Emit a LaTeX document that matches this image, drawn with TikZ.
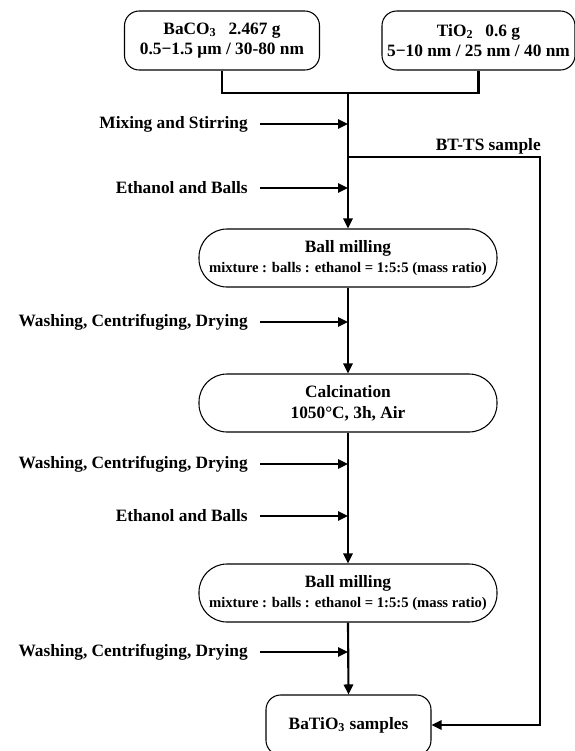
\documentclass[tikz,border=0pt]{standalone}
\usepackage{fontspec}
\setmainfont{Liberation Serif}
\usepackage{tikz}
\usetikzlibrary{arrows.meta,positioning}

\tikzset{
  stage/.style={draw, line width=0.8pt, rounded corners=21pt, align=center,
    minimum width=223.5pt, minimum height=43.5pt, inner sep=0pt,
    font=\bfseries\fontsize{13}{15.75}\selectfont},
  source/.style={draw, line width=0.8pt, rounded corners=11pt, align=center,
    minimum height=44.25pt, inner sep=0pt,
    font=\bfseries\fontsize{13}{15}\selectfont},
  feed/.style={anchor=east, inner xsep=9pt, inner ysep=0pt,
    font=\bfseries\fontsize{13}{15}\selectfont},
  flow/.style={line width=1.6pt},
}
\newcommand{\ratio}{{\fontsize{11}{13}\selectfont mixture : balls : ethanol = 1:5:5 (mass ratio)}}

\begin{document}
\begin{tikzpicture}[x=0.75pt,y=-0.75pt,>={Triangle[length=7.5pt,width=7pt]}]
  \useasboundingbox (0,0) rectangle (575,751);

  %raw materials
  \node[source, minimum width=146.25pt] (baco) at (222,40.5)
    {BaCO\textsubscript{3}\hspace{0.7em}2.467 g\\0.5−1.5 μm / 30-80 nm};
  \node[source, minimum width=144.75pt] (tio) at (478.5,40.5)
    {TiO\textsubscript{2}\hspace{0.7em}0.6 g\\5−10 nm / 25 nm / 40 nm};

  %process steps
  \node[stage] (mill1) at (348,258) {Ball milling\\[-1pt]\ratio};
  \node[stage] (calc) at (348,403) {Calcination\\1050°C, 3h, Air};
  \node[stage] (mill2) at (348,593) {Ball milling\\[-1pt]\ratio};
  \node[source, rounded corners=11pt, minimum width=123.75pt, minimum height=45pt]
    (prod) at (348.5,725) {BaTiO\textsubscript{3} samples};

  %joining the raw materials
  \coordinate (join) at (348,93);
  \coordinate (split) at (348,157);
  \coordinate (turn) at (540,157);
  \draw[flow] (baco.south) |- (join) -| (tio.south);
  \draw[flow,->] (join) -- (mill1.north);
  \draw[flow,->] (mill1.south) -- (calc.north);
  \draw[flow,->] (calc.south) -- (mill2.north);
  \draw[flow,->] (mill2.south) -- (prod.north);

  %side branch
  \draw[flow,->] (split) -- (turn) |- (prod.east);
  \node[anchor=base east, inner sep=0pt, font=\bfseries\fontsize{13}{15}\selectfont]
    (bts) at (541,150) {BT-TS sample};

  %inputs
  \foreach \n/\y/\t in {mix/124/{Mixing and Stirring}, eth1/188/{Ethanol and Balls},
      wash1/322/{Washing, Centrifuging, Drying}, wash2/464/{Washing, Centrifuging, Drying},
      eth2/516/{Ethanol and Balls}, wash3/652/{Washing, Centrifuging, Drying}}{
    \node[feed] (\n) at (260,\y) {\t};
    \draw[flow,->] (\n.east) -- (\n.east -| mill1.center);
  }
\end{tikzpicture}
\end{document}
